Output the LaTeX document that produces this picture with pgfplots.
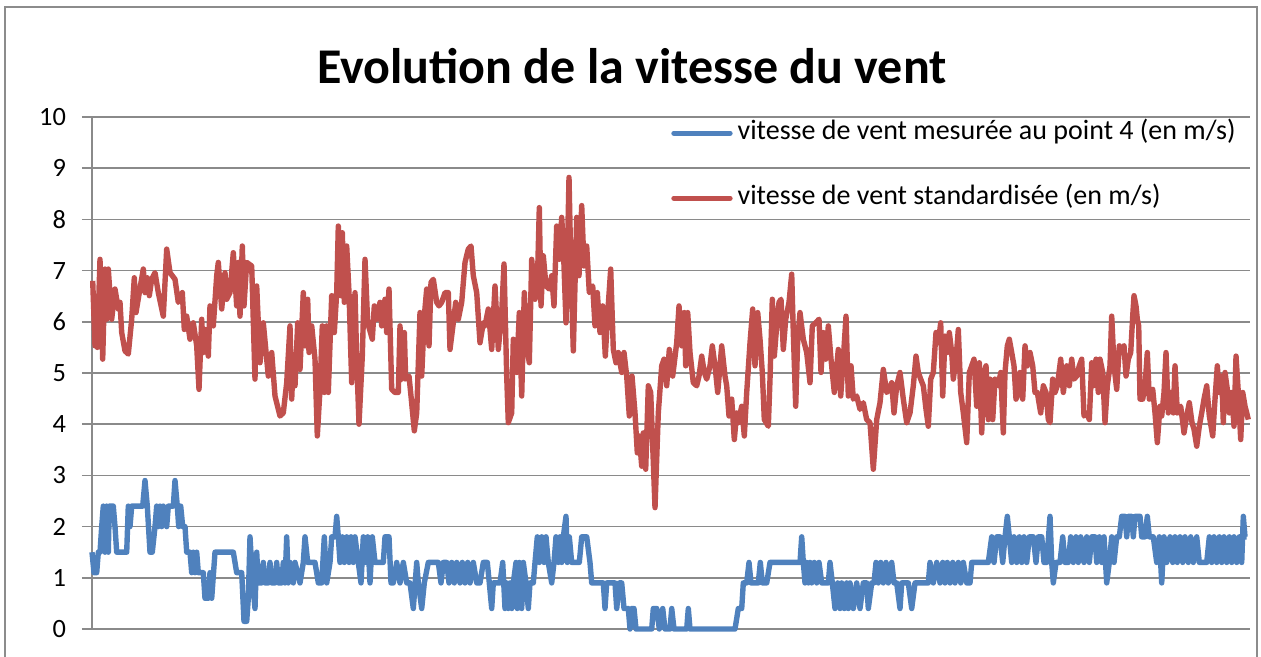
\documentclass[border=0pt]{standalone}
\usepackage{pgfplots}
\usepackage{pgfplotstable}
\pgfplotsset{compat=1.18}
\usepackage{fontspec}
\setmainfont{Carlito}
\definecolor{xlblue}{HTML}{4F81BD}
\definecolor{xlred}{HTML}{C0504D}
\definecolor{gridgray}{HTML}{8A8A8A}
\definecolor{framegray}{HTML}{8C8C8C}

\pgfplotstableread{
x y
92.7 6.80
95.0 5.53
96.7 6.44
97.3 5.50
100.0 7.22
102.7 5.27
105.0 7.03
106.7 6.05
108.3 7.03
111.7 6.05
115.0 6.64
118.3 6.25
120.0 6.38
121.7 5.79
125.0 5.43
128.3 5.37
131.7 6.05
134.3 6.86
136.0 6.18
139.3 6.57
143.3 7.03
145.0 6.57
147.3 6.86
149.3 6.51
151.7 6.83
155.0 6.96
158.3 6.57
163.3 6.11
166.7 7.42
170.0 6.96
175.0 6.83
178.3 6.38
182.3 6.57
184.3 5.85
186.7 6.11
190.0 5.66
193.3 5.98
196.7 5.53
199.0 4.68
201.7 6.05
203.3 5.40
205.0 5.85
208.3 5.33
210.0 6.31
213.3 5.92
216.7 6.90
218.3 7.16
221.7 6.25
225.0 6.96
226.7 6.44
230.0 6.57
233.3 7.35
236.7 6.31
238.3 7.16
240.0 6.11
242.3 7.48
244.0 6.31
246.7 7.16
251.7 7.09
255.0 4.88
256.7 6.70
260.0 5.20
263.3 5.98
268.3 4.94
271.7 5.40
275.0 4.55
280.0 4.16
283.3 4.22
286.7 4.81
290.0 5.92
291.7 4.49
293.3 5.27
295.0 4.75
297.7 5.98
300.0 5.07
303.3 6.57
305.0 5.53
307.7 6.44
309.0 5.40
311.7 5.92
315.0 5.27
317.3 3.77
320.0 4.68
322.3 5.92
324.3 4.62
326.7 5.92
328.3 4.62
331.7 6.51
334.3 5.79
336.7 6.57
338.3 7.87
341.0 6.51
342.3 7.74
344.3 6.38
346.7 7.48
349.0 6.57
351.7 4.81
355.0 6.57
356.7 5.27
359.0 4.00
362.3 5.33
365.0 7.22
367.7 5.98
372.3 5.66
374.3 6.31
376.7 6.05
380.0 6.38
381.7 5.92
385.0 6.44
386.7 5.79
389.0 6.64
391.7 4.68
395.0 4.62
398.3 4.62
400.0 5.92
401.7 4.88
404.3 5.79
405.7 4.88
409.0 4.94
411.0 4.55
414.3 3.87
416.7 4.22
420.0 6.18
421.7 4.94
424.3 6.11
426.7 6.64
429.0 5.53
431.0 6.77
433.3 6.83
436.7 6.38
439.0 6.31
441.7 6.38
445.0 6.57
448.3 6.57
450.0 5.46
453.3 5.98
455.7 6.38
458.3 6.05
461.7 6.38
465.0 7.16
468.3 7.42
471.0 7.48
473.3 6.90
476.7 6.57
480.0 5.59
483.3 5.98
485.0 5.92
488.3 6.25
491.7 5.46
495.0 6.70
498.3 5.46
501.7 6.18
504.0 7.13
506.7 4.94
508.3 4.03
511.7 4.22
513.3 5.66
516.7 5.01
519.3 6.18
521.7 4.55
524.3 6.57
526.7 5.53
529.3 5.20
531.7 7.22
535.0 6.44
537.3 6.70
539.3 8.23
541.0 6.31
543.3 7.29
546.0 6.70
549.3 6.64
551.7 6.90
554.0 6.31
556.7 7.87
559.3 7.22
561.7 8.04
563.3 7.48
566.0 5.98
567.3 7.22
569.0 8.82
570.7 7.22
573.3 5.43
576.7 8.04
579.0 6.90
581.7 8.27
584.0 7.09
586.7 7.48
589.3 6.57
592.7 6.70
595.0 5.92
597.3 6.57
600.0 5.79
602.7 6.31
605.3 5.33
608.0 6.25
610.7 7.03
613.3 5.46
616.0 5.20
618.3 5.40
621.7 5.01
624.0 5.40
626.7 4.94
629.3 4.16
632.0 4.94
635.0 4.22
637.3 3.44
639.3 3.77
641.7 3.18
643.3 3.83
645.7 3.12
648.3 4.75
650.7 4.62
655.0 2.37
658.3 4.22
661.7 5.14
664.0 5.27
666.7 4.75
669.3 5.46
672.7 4.94
676.7 5.59
679.0 6.31
681.7 5.53
684.3 6.18
685.7 5.14
687.7 6.18
690.0 5.40
693.3 4.81
696.7 4.75
699.0 4.94
701.7 5.33
704.3 5.01
706.7 4.88
710.0 5.14
712.3 5.53
715.0 5.14
717.7 4.62
720.0 5.14
721.7 5.53
725.0 4.94
726.7 4.75
729.0 4.16
731.7 4.49
734.3 3.70
736.7 4.22
738.3 4.03
741.7 4.35
744.3 3.77
746.7 4.62
750.0 5.59
752.7 6.25
755.0 5.14
757.7 6.18
760.0 5.66
762.3 5.01
764.3 4.09
768.3 3.96
770.0 4.88
772.3 6.44
774.3 5.33
776.7 5.92
779.0 6.38
781.0 6.44
783.3 5.46
785.7 6.05
789.0 6.38
791.7 6.93
793.3 5.79
795.7 4.35
797.7 5.66
800.0 6.18
803.3 5.66
806.7 5.40
810.0 4.81
812.3 5.92
815.7 5.98
819.0 6.05
821.0 5.01
823.3 5.79
825.7 5.27
828.3 5.92
831.0 5.27
834.3 4.62
838.3 5.46
840.7 4.55
843.3 5.27
846.0 6.11
848.3 4.55
851.0 5.14
853.3 4.49
856.7 4.55
860.0 4.29
863.3 4.42
866.7 4.09
870.0 4.03
873.3 3.12
876.7 4.09
880.0 4.42
883.3 5.07
886.7 4.62
889.3 4.68
891.7 4.81
894.0 4.22
896.7 4.75
900.0 5.01
903.3 4.49
906.7 4.03
910.0 4.22
913.3 4.75
916.0 5.33
918.3 5.01
920.7 4.88
923.3 4.75
926.0 4.29
928.3 3.96
930.7 4.88
933.3 5.01
936.0 5.79
938.3 5.59
940.7 5.98
942.7 4.55
945.0 5.72
947.3 5.40
949.3 5.79
951.7 5.40
953.3 4.88
956.0 5.27
958.3 5.85
960.7 4.62
963.3 4.22
966.7 3.64
969.3 5.01
971.7 5.14
974.0 5.27
976.7 4.35
979.3 5.20
981.7 3.83
984.0 5.01
986.0 5.14
988.3 4.09
990.0 4.88
992.7 4.09
995.0 4.88
998.3 4.75
1000.7 5.01
1003.3 3.83
1005.0 5.01
1007.3 5.53
1009.3 5.66
1011.7 5.40
1014.0 5.14
1016.0 4.49
1018.3 4.62
1020.0 5.01
1022.7 4.49
1025.0 5.53
1027.3 5.14
1030.0 5.40
1032.7 5.14
1035.0 4.62
1037.3 4.62
1040.7 4.22
1043.3 4.75
1046.0 4.62
1048.3 4.09
1050.0 4.03
1052.7 4.88
1055.0 4.62
1057.3 4.75
1060.7 5.27
1063.3 4.62
1066.7 5.14
1069.3 4.75
1071.7 5.27
1074.0 4.88
1076.7 4.94
1079.3 5.14
1081.7 5.27
1084.0 4.16
1086.7 4.22
1089.3 4.09
1091.7 5.20
1093.3 4.75
1096.0 5.27
1098.3 4.62
1100.0 5.27
1102.7 5.01
1105.0 4.03
1107.3 4.75
1110.0 5.14
1111.7 6.11
1114.0 5.14
1116.7 4.68
1119.3 5.53
1121.7 5.40
1124.0 5.53
1126.0 4.94
1128.3 5.27
1130.7 5.40
1132.7 6.11
1134.0 6.51
1136.0 6.31
1137.3 6.05
1138.7 5.92
1140.0 4.49
1142.7 4.49
1145.0 4.75
1147.3 5.40
1149.3 4.49
1152.7 4.68
1155.0 4.22
1157.3 3.64
1160.0 4.35
1161.7 4.16
1164.0 4.62
1166.0 5.40
1168.3 4.22
1170.7 4.62
1173.3 4.22
1175.0 5.14
1177.3 4.22
1180.7 4.35
1184.0 3.83
1186.7 4.16
1189.3 4.42
1192.0 4.03
1194.0 3.90
1196.7 3.57
1199.3 3.96
1201.7 4.22
1204.0 4.49
1206.7 4.75
1209.3 4.16
1212.7 3.77
1215.0 4.49
1217.3 5.14
1219.3 4.62
1221.7 4.94
1223.3 4.03
1225.0 5.01
1227.3 4.68
1229.3 4.22
1231.7 4.62
1234.0 3.96
1236.0 5.33
1238.3 4.62
1240.7 3.70
1242.7 4.62
1245.0 4.35
1246.7 4.22
1248.3 4.09
}\redtable

\pgfplotstableread{
x y
92.0 1.5
94.0 1.1
96.7 1.1
98.3 1.5
100.0 1.5
101.7 2.0
103.3 2.4
105.0 1.5
106.7 2.4
108.3 1.5
109.3 2.4
113.3 2.4
115.0 2.0
116.7 1.5
126.7 1.5
128.3 2.4
130.0 2.0
131.7 2.4
142.7 2.4
145.0 2.9
147.3 2.4
150.0 1.5
152.3 1.5
155.0 2.0
156.7 2.4
158.3 2.0
160.0 2.4
161.7 2.0
163.3 2.4
166.7 2.0
168.3 2.4
173.3 2.4
175.0 2.9
177.3 2.4
178.7 2.0
180.7 2.4
182.7 2.0
185.0 2.0
186.7 1.5
190.0 1.5
191.7 1.1
193.3 1.5
195.0 1.1
196.7 1.5
198.3 1.1
203.3 1.1
205.0 0.6
208.3 0.6
210.0 1.1
211.7 0.6
215.0 1.5
233.3 1.5
236.7 1.1
241.7 1.1
244.0 0.15
246.7 0.15
248.3 0.6
250.0 1.8
252.7 0.9
255.0 0.4
256.7 1.5
258.3 0.9
261.7 0.9
263.3 1.3
265.0 0.9
268.3 0.9
270.0 1.3
271.7 0.9
275.0 0.9
276.7 1.3
278.3 0.9
281.7 0.9
283.3 1.3
285.0 0.9
286.7 1.8
288.3 0.9
290.0 1.3
293.3 0.9
295.0 1.3
300.0 0.9
303.3 1.3
305.0 1.8
307.7 1.3
315.0 1.3
318.3 0.9
321.7 0.9
324.3 1.8
326.7 0.9
330.0 1.3
331.7 1.8
335.0 1.8
336.7 2.2
338.3 1.8
340.0 1.3
342.3 1.8
344.3 1.3
346.7 1.8
349.0 1.3
351.0 1.8
353.3 1.3
355.0 1.8
358.3 1.3
361.0 0.9
363.3 1.8
365.0 1.3
367.7 1.8
370.0 0.9
372.3 1.8
375.0 1.3
383.3 1.3
385.0 1.8
389.0 1.8
391.0 0.9
393.3 0.9
396.7 1.3
400.0 0.9
403.3 1.3
406.7 0.9
410.0 0.9
413.3 0.4
416.7 1.3
418.3 0.9
421.7 0.4
424.3 0.9
428.3 1.3
438.3 1.3
441.0 0.9
443.3 1.3
446.7 1.3
449.0 0.9
451.7 1.3
454.3 0.9
456.7 1.3
460.0 0.9
462.3 1.3
465.0 0.9
467.7 1.3
470.0 0.9
473.3 1.3
476.7 0.9
480.0 0.9
483.3 1.3
487.3 1.3
489.3 0.9
491.7 0.4
493.3 0.9
500.0 0.9
502.7 1.3
505.0 0.4
506.7 0.9
508.3 0.4
510.0 0.9
511.7 0.4
513.3 0.9
516.0 1.3
517.3 0.4
519.3 1.3
521.7 0.4
523.3 1.3
526.0 0.9
528.3 0.4
530.0 0.9
533.3 0.9
535.0 1.3
537.3 1.8
539.3 1.3
541.7 1.8
544.0 1.3
546.0 1.8
548.3 1.3
551.7 0.9
554.0 1.3
556.0 1.8
558.3 1.3
560.0 1.8
561.7 1.3
563.3 1.8
566.0 2.2
567.3 1.3
569.3 1.8
571.7 1.3
579.3 1.3
581.7 1.8
586.7 1.8
590.0 1.3
591.7 0.9
603.3 0.9
605.0 0.4
606.7 0.9
615.0 0.9
616.7 0.4
619.3 0.9
621.7 0.9
624.0 0.4
628.3 0.4
630.0 0.0
631.7 0.4
634.0 0.4
636.0 0.0
651.7 0.0
653.3 0.4
656.7 0.4
659.3 0.0
662.7 0.4
665.0 0.0
670.0 0.0
671.7 0.4
674.0 0.0
686.7 0.0
688.3 0.4
690.0 0.0
735.0 0.0
738.3 0.4
741.7 0.4
743.3 0.9
746.7 0.9
749.0 1.3
751.0 0.9
758.3 0.9
760.3 1.3
762.3 0.9
766.7 0.9
770.0 1.3
800.0 1.3
801.7 1.8
803.3 1.3
805.0 0.9
806.7 1.3
808.3 0.9
810.0 1.3
811.7 0.9
814.3 1.3
816.7 0.9
819.0 1.3
821.7 0.9
828.3 0.9
830.0 1.3
832.3 0.9
835.0 0.4
837.7 0.9
840.0 0.4
841.7 0.9
844.3 0.4
846.7 0.9
848.3 0.4
850.0 0.9
853.3 0.4
856.7 0.9
860.0 0.4
863.3 0.9
866.7 0.9
868.3 0.4
871.7 0.9
874.0 0.9
876.0 1.3
878.3 0.9
880.7 1.3
883.3 0.9
886.0 1.3
888.3 0.9
891.7 1.3
894.0 0.9
896.7 0.9
900.0 0.4
901.7 0.9
908.3 0.9
911.7 0.4
915.0 0.9
928.3 0.9
930.0 1.3
933.3 0.9
936.7 1.3
940.0 0.9
942.7 1.3
945.0 0.9
947.3 1.3
950.0 0.9
952.7 1.3
955.0 0.9
958.3 1.3
960.7 0.9
963.3 1.3
966.7 0.9
970.0 0.9
971.7 1.3
988.3 1.3
991.7 1.8
994.0 1.3
996.7 1.8
1000.0 1.8
1002.7 1.3
1005.0 1.8
1007.3 2.2
1009.3 1.8
1011.7 1.3
1014.0 1.8
1016.7 1.3
1019.3 1.8
1021.7 1.3
1024.0 1.8
1026.7 1.3
1029.3 1.8
1033.3 1.8
1036.0 1.3
1038.3 1.8
1041.7 1.8
1044.0 1.3
1046.7 1.3
1050.0 2.2
1051.7 1.3
1053.3 0.9
1056.0 1.3
1060.0 1.3
1062.7 1.8
1065.0 1.3
1068.3 1.3
1070.7 1.8
1073.3 1.3
1076.0 1.8
1078.3 1.3
1080.7 1.8
1084.0 1.3
1086.7 1.8
1089.3 1.3
1091.7 1.8
1095.0 1.8
1096.7 1.3
1099.3 1.8
1101.7 1.3
1104.0 1.8
1106.7 0.9
1109.3 1.3
1111.7 1.8
1114.0 1.3
1116.7 1.8
1119.3 1.8
1121.7 2.2
1125.0 2.2
1126.7 1.8
1128.3 2.2
1131.7 2.2
1133.3 1.8
1135.0 2.2
1140.0 2.2
1141.7 1.8
1145.0 1.8
1147.3 2.2
1149.3 1.8
1153.3 1.8
1156.7 1.3
1159.3 1.8
1161.7 0.9
1164.0 1.8
1166.7 1.3
1170.0 1.8
1172.7 1.3
1175.0 1.8
1177.3 1.3
1180.0 1.8
1182.7 1.3
1185.0 1.8
1188.3 1.3
1190.7 1.8
1193.3 1.3
1196.7 1.8
1199.3 1.3
1206.7 1.3
1209.3 1.8
1211.7 1.3
1214.0 1.8
1216.7 1.3
1219.3 1.8
1221.7 1.3
1224.0 1.8
1226.7 1.3
1229.3 1.8
1231.7 1.3
1234.0 1.8
1236.7 1.3
1239.3 1.8
1241.7 1.3
1243.3 2.2
1245.0 1.8
1246.7 1.8
}\bluetable

\begin{document}
\begin{tikzpicture}
\useasboundingbox (0pt,0pt) rectangle (630.5pt,328.5pt);
\draw[framegray, line width=1.1pt] (2.5pt,-10pt) rectangle (628.5pt,325pt);
\node[anchor=base, font=\bfseries\fontsize{25}{30}\selectfont] at (316pt,286.5pt) {Evolution de la vitesse du vent};
\begin{axis}[
  at={(46pt,14pt)}, anchor=south west,
  scale only axis, width=579pt, height=256pt,
  xmin=92, xmax=1250, ymin=0, ymax=10,
  ytick={0,1,...,10}, xtick=\empty,
  axis x line=bottom, axis y line=left,
  axis line style={-, gridgray, line width=0.75pt},
  ymajorgrids, major grid style={gridgray, line width=0.75pt},
  tick align=outside, major tick length=5pt,
  ytick style={gridgray, line width=0.75pt},
  yticklabel style={font=\fontsize{13.2}{16}\selectfont, color=black, xshift=-4.5pt},
  /pgf/number format/assume math mode=true,
  clip=false,
  legend cell align=left,
  legend style={draw=none, fill=none, at={(0.4947,1.013)}, anchor=north west,
    font=\fontsize{14}{17}\selectfont, row sep=14pt,
    nodes={inner sep=2.5pt, text height=10pt, text depth=3.5pt}},
  legend image code/.code={\draw[#1, line cap=round] (0pt,0pt) -- (28pt,0pt);},
]
\addplot[xlblue, line width=2.7pt, line join=round] table[x=x,y=y] {\bluetable};
\addlegendentry{vitesse de vent mesurée au point 4 (en m/s)}
\addplot[xlred, line width=2.7pt, line join=round] table[x=x,y=y] {\redtable};
\addlegendentry{vitesse de vent standardisée (en m/s)}
\end{axis}
\end{tikzpicture}
\end{document}
